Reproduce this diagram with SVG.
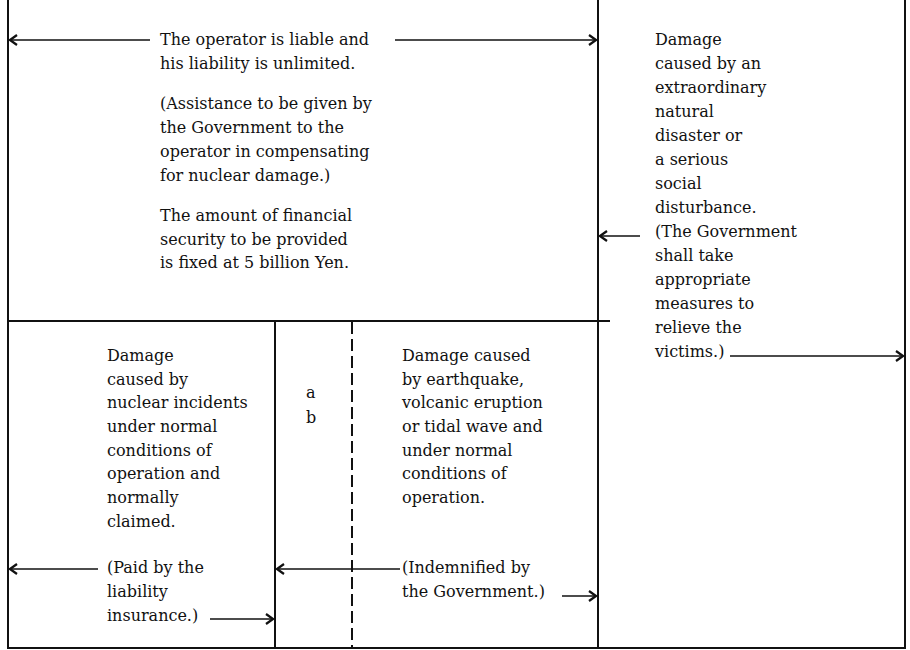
<svg xmlns="http://www.w3.org/2000/svg" width="910" height="650" viewBox="0 0 910 650">
<style>
text{font-family:"DejaVu Serif","Liberation Serif",serif;font-size:16px;fill:#111}
.frame{stroke:#111;stroke-width:2;fill:none}
.dash{stroke:#111;stroke-width:2;fill:none;stroke-dasharray:12 5}
.arr{stroke:#111;stroke-width:1.6;fill:none;marker-end:url(#ah)}
</style>
<defs>
<marker id="ah" viewBox="0 0 10 12" refX="9" refY="6" markerWidth="10" markerHeight="12" markerUnits="userSpaceOnUse" orient="auto">
<path d="M2,1 L9,6 L2,11" fill="none" stroke="#111" stroke-width="2.2"/>
</marker>
</defs>
<rect width="910" height="650" fill="#fff"/>
<g id="frame">
<line class="frame" x1="8" y1="0" x2="8" y2="648"/>
<line class="frame" x1="598" y1="0" x2="598" y2="648"/>
<line class="frame" x1="905" y1="0" x2="905" y2="648"/>
<line class="frame" x1="7" y1="648" x2="906" y2="648"/>
<line class="frame" x1="8" y1="321" x2="610" y2="321"/>
<line class="frame" x1="275" y1="321" x2="275" y2="648"/>
<line class="dash" x1="352" y1="322" x2="352" y2="648"/>
</g>
<g id="operator">
<text x="160" y="45">The operator is liable and</text>
<text x="160" y="69">his liability is unlimited.</text>
<text x="160" y="109">(Assistance to be given by</text>
<text x="160" y="133">the Government to the</text>
<text x="160" y="157">operator in compensating</text>
<text x="160" y="181">for nuclear damage.)</text>
<text x="160" y="221">The amount of financial</text>
<text x="160" y="245">security to be provided</text>
<text x="160" y="268">is fixed at 5 billion Yen.</text>
</g>
<g id="extraordinary">
<text x="655" y="45">Damage</text>
<text x="655" y="69">caused by an</text>
<text x="655" y="93">extraordinary</text>
<text x="655" y="117">natural</text>
<text x="655" y="141">disaster or</text>
<text x="655" y="165">a serious</text>
<text x="655" y="189">social</text>
<text x="655" y="213">disturbance.</text>
<text x="655" y="237">(The Government</text>
<text x="655" y="261">shall take</text>
<text x="655" y="285">appropriate</text>
<text x="655" y="309">measures to</text>
<text x="655" y="333">relieve the</text>
<text x="655" y="357">victims.)</text>
</g>
<g id="normal">
<text x="107" y="361">Damage</text>
<text x="107" y="385">caused by</text>
<text x="107" y="408">nuclear incidents</text>
<text x="107" y="432">under normal</text>
<text x="107" y="456">conditions of</text>
<text x="107" y="479">operation and</text>
<text x="107" y="503">normally</text>
<text x="107" y="527">claimed.</text>
<text x="107" y="573">(Paid by the</text>
<text x="107" y="597">liability</text>
<text x="107" y="621">insurance.)</text>
</g>
<g id="ab">
<text x="306" y="398">a</text>
<text x="306" y="423">b</text>
</g>
<g id="earthquake">
<text x="402" y="361">Damage caused</text>
<text x="402" y="385">by earthquake,</text>
<text x="402" y="408">volcanic eruption</text>
<text x="402" y="432">or tidal wave and</text>
<text x="402" y="456">under normal</text>
<text x="402" y="479">conditions of</text>
<text x="402" y="503">operation.</text>
<text x="402" y="573">(Indemnified by</text>
<text x="402" y="597">the Government.)</text>
</g>
<g id="connectors">
<line class="arr" x1="150" y1="40" x2="10" y2="40"/>
<line class="arr" x1="395" y1="40" x2="596" y2="40"/>
<line class="arr" x1="640" y1="236" x2="600" y2="236"/>
<line class="arr" x1="730" y1="356" x2="903" y2="356"/>
<line class="arr" x1="98" y1="569" x2="10" y2="569"/>
<line class="arr" x1="210" y1="619" x2="273" y2="619"/>
<line class="arr" x1="400" y1="569" x2="277" y2="569"/>
<line class="arr" x1="562" y1="596" x2="596" y2="596"/>
</g>
</svg>
